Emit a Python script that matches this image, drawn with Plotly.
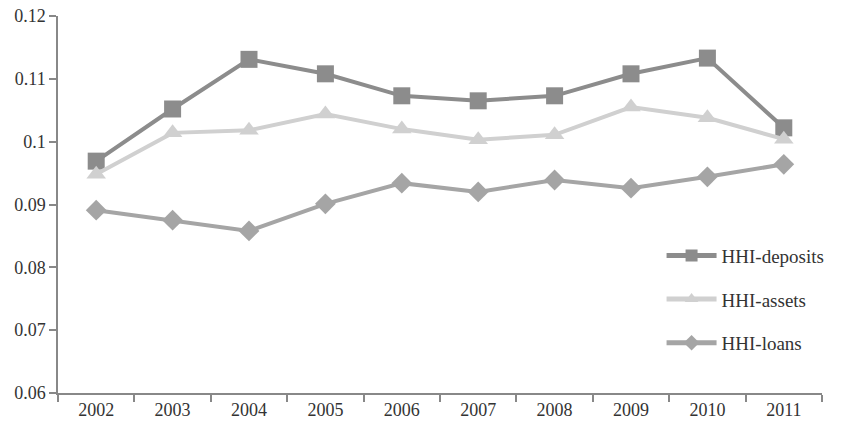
import plotly.graph_objects as go

years = ["2002", "2003", "2004", "2005", "2006", "2007", "2008", "2009", "2010", "2011"]
hhi_deposits = [0.0969, 0.1052, 0.1131, 0.1108, 0.1073, 0.1065, 0.1073, 0.1108, 0.1133, 0.1022]
hhi_assets = [0.0948, 0.1014, 0.1018, 0.1044, 0.1020, 0.1003, 0.1011, 0.1055, 0.1038, 0.1004]
hhi_loans = [0.0891, 0.0875, 0.0858, 0.0901, 0.0934, 0.0920, 0.0939, 0.0926, 0.0944, 0.0964]

font_family = "Liberation Serif"

fig = go.Figure()
fig.add_trace(go.Scatter(x=years, y=hhi_deposits, name="HHI-deposits", mode="lines+markers",
                         line=dict(color="#8c8c8c", width=4),
                         marker=dict(symbol="square", size=17, color="#8c8c8c"),
                         legendgroup="a"))
fig.add_trace(go.Scatter(x=years, y=hhi_assets, name="HHI-assets", mode="lines+markers",
                         line=dict(color="#d0d0d0", width=4),
                         marker=dict(symbol="triangle-up", size=17, color="#d0d0d0"),
                         legendgroup="b"))
fig.add_trace(go.Scatter(x=years, y=hhi_loans, name="HHI-loans", mode="lines+markers",
                         line=dict(color="#a5a5a5", width=4),
                         marker=dict(symbol="diamond", size=16, color="#a5a5a5"),
                         legendgroup="c"))

fig.update_layout(
    width=863, height=433,
    margin=dict(l=58, r=41, t=16, b=40, autoexpand=False),
    paper_bgcolor="white", plot_bgcolor="white",
    font=dict(family=font_family, size=18, color="#333333"),
    showlegend=True,
    legend=dict(x=0.79, y=0.415, xanchor="left", yanchor="top",
                font=dict(family=font_family, size=19, color="#333333"),
                tracegroupgap=16, itemsizing="constant", itemwidth=50,
                bgcolor="rgba(0,0,0,0)"),
    xaxis=dict(type="category", range=[-0.5, 9.5], showgrid=False, automargin=False,
               showline=True, linecolor="#888888", linewidth=1.5,
               ticks="outside", ticklen=7, tickcolor="#888888", tickwidth=1.5,
               tickson="boundaries", tickfont=dict(family=font_family, size=18, color="#333333")),
    yaxis=dict(range=[0.06, 0.12], dtick=0.01, showgrid=False, zeroline=False, automargin=False,
               showline=True, linecolor="#888888", linewidth=1.5,
               ticks="outside", ticklen=7, tickcolor="#888888", tickwidth=1.5,
               tickfont=dict(family=font_family, size=18, color="#333333")),
)

fig.write_html("out.html")
